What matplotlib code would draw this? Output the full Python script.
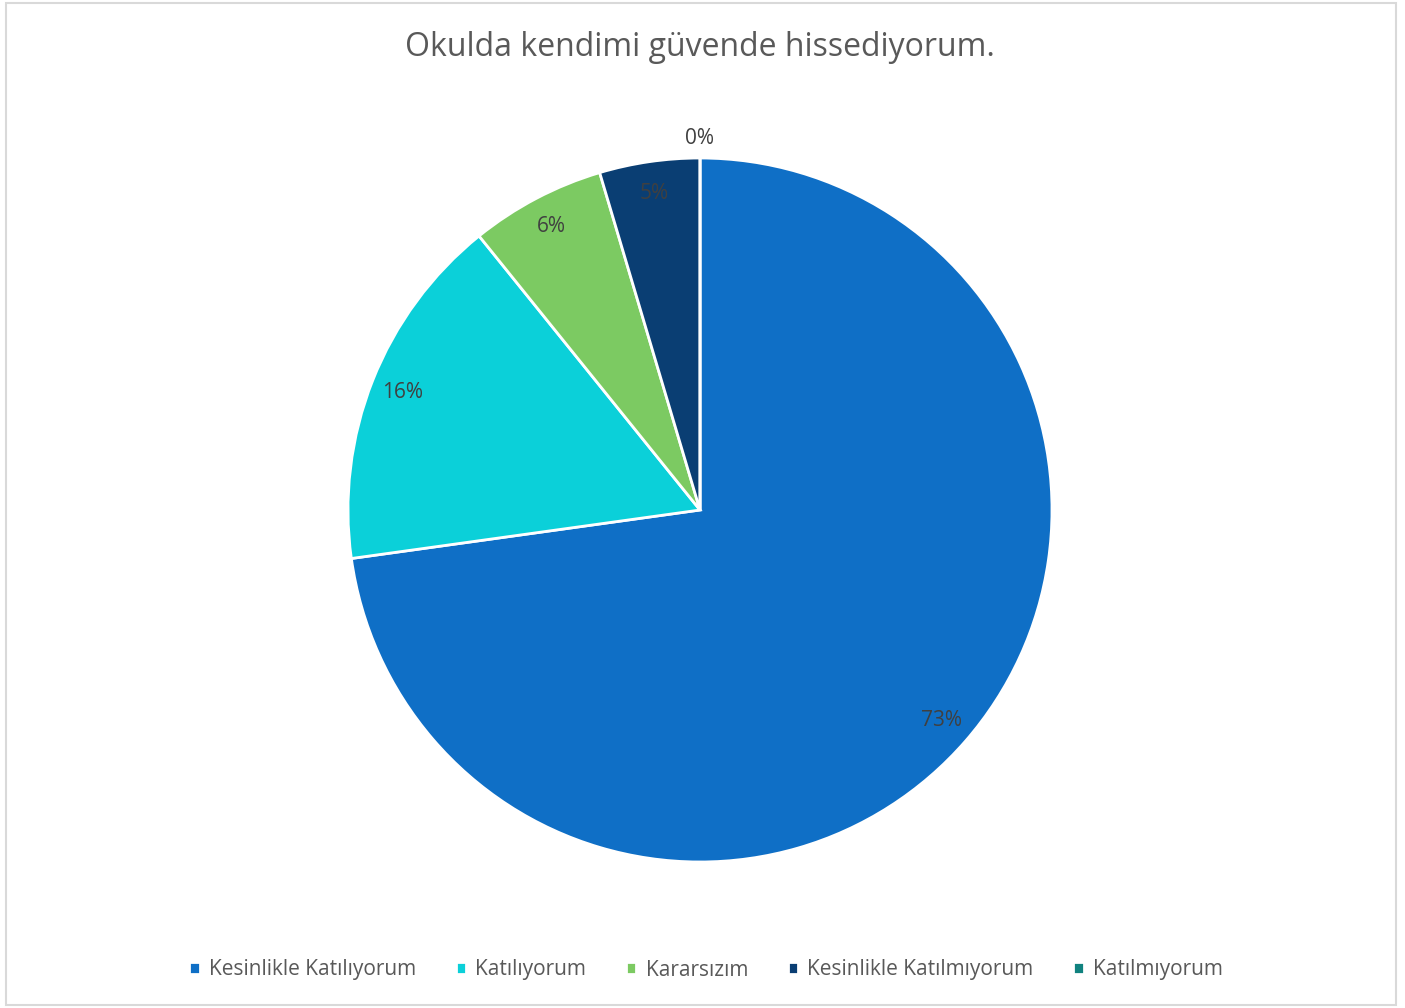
import matplotlib.pyplot as plt

# survey answers for "Okulda kendimi güvende hissediyorum."
categories = ['Kesinlikle Katılıyorum', 'Katılıyorum', 'Kararsızım',
              'Kesinlikle Katılmıyorum', 'Katılmıyorum']
shares = [72.8, 16.4, 6.2, 4.6, 0.0]
colors = ['#0F6FC6', '#0BD0D9', '#7CCA62', '#0A3E73', '#10827F']

plt.rcParams['font.family'] = ['Open Sans', 'DejaVu Sans']

fig = plt.figure(figsize=(14.05, 10.08), dpi=100)
W, H = 1405, 1008

# light frame around the chart area
frame = plt.Rectangle((6 / W, 3 / H), 1390 / W, 1002 / H, transform=fig.transFigure,
                      fill=False, edgecolor='#D9D9D9', linewidth=1.5)
fig.patches.append(frame)

cx, cy, r = 700, 510, 352
ax = fig.add_axes([(cx - r) / W, (H - cy - r) / H, 2 * r / W, 2 * r / H])
wedges, _, pct = ax.pie(shares, colors=colors, startangle=90, counterclock=False,
                        autopct='%.0f%%', pctdistance=0.91,
                        wedgeprops=dict(edgecolor='white', linewidth=2),
                        textprops=dict(color='#404040', fontsize=15))
for t, v in zip(pct, shares):
    if v == 0:
        t.set_position((0, 1.055))
ax.set_xlim(-1, 1)
ax.set_ylim(-1, 1)
ax.set_aspect('equal')

fig.text(cx / W, 1 - 47 / H, 'Okulda kendimi güvende hissediyorum.',
         ha='center', va='center', fontsize=23, color='#595959')

fig.legend(wedges, categories, loc='center', bbox_to_anchor=(706 / W, 1 - 970 / H),
           ncol=5, frameon=False, fontsize=15, labelcolor='#595959',
           handlelength=0.5, handleheight=0.5, handletextpad=0.45, columnspacing=1.9)

fig.savefig('out.png', dpi=100)
